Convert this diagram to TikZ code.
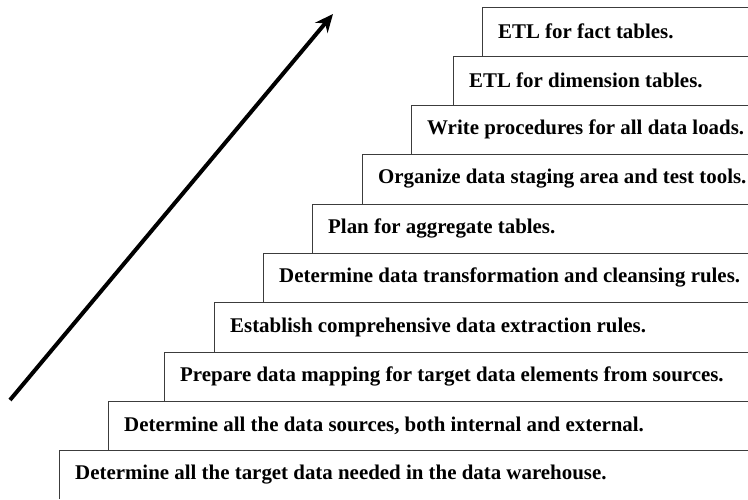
\documentclass[tikz,border=0pt]{standalone}
\usepackage{fontspec}
\setmainfont{Liberation Serif}
\usepackage{tikz}
\usetikzlibrary{arrows.meta}
\definecolor{stairgray}{RGB}{60, 60, 60}
\newcommand{\stairstep}[5]{
\draw[stairline] (#1,#3) -- (#1,#2) -- (748,#2);
\node[steptext] (#4) at (#1+16,{(#2+#3)/2}) {#5};
}

\begin{document}
\begin{tikzpicture}[x=1pt, y=1pt,
    stairline/.style={line width=0.9pt, stairgray},
    steptext/.style={anchor=west, inner sep=0pt, font=\bfseries\fontsize{20.9}{22}\selectfont}]
    \useasboundingbox (0,0) rectangle (748,499);
    % the staircase, top step first
    \stairstep{482}{492}{443}{etlfact}{ETL for fact tables.}
    \stairstep{453}{443}{394}{etldim}{ETL for dimension tables.}
    \stairstep{411}{394}{345}{loads}{Write procedures for all data loads.}
    \stairstep{362}{345}{295}{staging}{Organize data staging area and test tools.}
    \stairstep{312}{295}{246}{aggregate}{Plan for aggregate tables.}
    \stairstep{263}{246}{197}{cleansing}{Determine data transformation and cleansing rules.}
    \stairstep{214}{197}{147}{extraction}{Establish comprehensive data extraction rules.}
    \stairstep{164}{147}{98}{mapping}{Prepare data mapping for target data elements from sources.}
    \stairstep{108}{98}{49}{sources}{Determine all the data sources, both internal and external.}
    \stairstep{59}{49}{0}{target}{Determine all the target data needed in the data warehouse.}
    % rising arrow
    \coordinate (start) at (10,99);
    \coordinate (peak) at (333,485);
    \draw[line width=4pt, -{Stealth[length=18pt, width=16pt]}] (start) -- (peak);
\end{tikzpicture}
\end{document}
